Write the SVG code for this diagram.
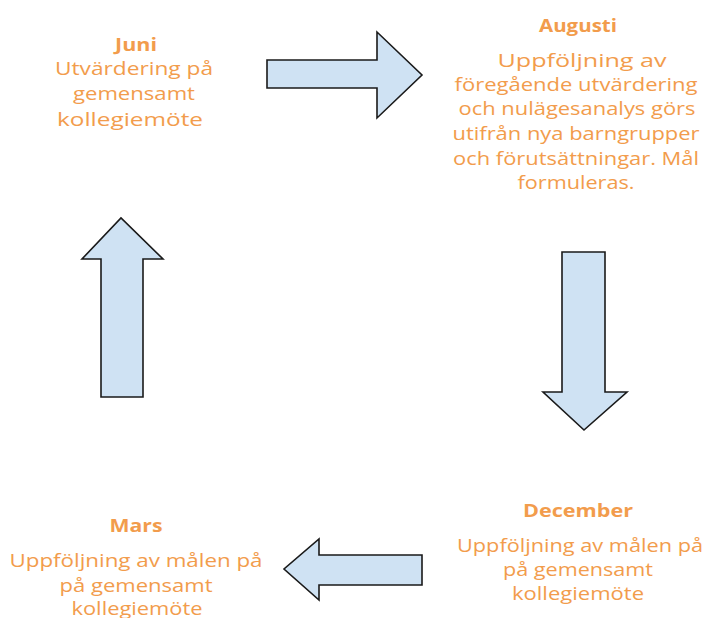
<svg xmlns="http://www.w3.org/2000/svg" width="709" height="618" viewBox="0 0 709 618">
<style>
.t{font-family:"Open Sans","Liberation Sans",sans-serif;font-size:19px;fill:#F29C4C;text-anchor:middle}
.b{font-weight:bold;font-size:18px}
.a{fill:#CFE2F3;stroke:#1a1a1a;stroke-width:1.6;stroke-linejoin:miter}
</style>
<rect width="709" height="618" fill="#ffffff"/>
<g id="juni">
<text class="t b" x="136" y="51" textLength="42" lengthAdjust="spacingAndGlyphs">Juni</text>
<text class="t" x="134" y="75" textLength="158" lengthAdjust="spacingAndGlyphs">Utvärdering på</text>
<text class="t" x="134" y="100" textLength="122" lengthAdjust="spacingAndGlyphs">gemensamt</text>
<text class="t" x="130" y="126" textLength="146" lengthAdjust="spacingAndGlyphs">kollegiemöte</text>
</g>
<g id="augusti">
<text class="t b" x="578" y="32" textLength="78" lengthAdjust="spacingAndGlyphs">Augusti</text>
<text class="t" x="582" y="67" textLength="169" lengthAdjust="spacingAndGlyphs">Uppföljning av</text>
<text class="t" x="576" y="91" textLength="243" lengthAdjust="spacingAndGlyphs">föregående utvärdering</text>
<text class="t" x="577" y="115" textLength="237" lengthAdjust="spacingAndGlyphs">och nulägesanalys görs</text>
<text class="t" x="576" y="140" textLength="247" lengthAdjust="spacingAndGlyphs">utifrån nya barngrupper</text>
<text class="t" x="576" y="165" textLength="246" lengthAdjust="spacingAndGlyphs">och förutsättningar. Mål</text>
<text class="t" x="576" y="189" textLength="117" lengthAdjust="spacingAndGlyphs">formuleras.</text>
</g>
<g id="december">
<text class="t b" x="578" y="517" textLength="110" lengthAdjust="spacingAndGlyphs">December</text>
<text class="t" x="580" y="552" textLength="246" lengthAdjust="spacingAndGlyphs">Uppföljning av målen på</text>
<text class="t" x="578" y="576" textLength="150" lengthAdjust="spacingAndGlyphs">på gemensamt</text>
<text class="t" x="578" y="600" textLength="132" lengthAdjust="spacingAndGlyphs">kollegiemöte</text>
</g>
<g id="mars">
<text class="t b" x="136" y="532" textLength="53" lengthAdjust="spacingAndGlyphs">Mars</text>
<text class="t" x="136" y="567" textLength="253" lengthAdjust="spacingAndGlyphs">Uppföljning av målen på</text>
<text class="t" x="136" y="592" textLength="153" lengthAdjust="spacingAndGlyphs">på gemensamt</text>
<text class="t" x="137" y="615" textLength="131" lengthAdjust="spacingAndGlyphs">kollegiemöte</text>
</g>
<g id="connectors">
<polygon class="a" points="267,60 377,60 377,32 422,75 377,118 377,88 267,88"/>
<polygon class="a" points="562,252 605,252 605,392 627,392 584,430 543,392 562,392"/>
<polygon class="a" points="422,555 319,555 319,539 284,569 319,600 319,585 422,585"/>
<polygon class="a" points="101,397 143,397 143,259 163,259 121,218 82,259 101,259"/>
</g>
</svg>
